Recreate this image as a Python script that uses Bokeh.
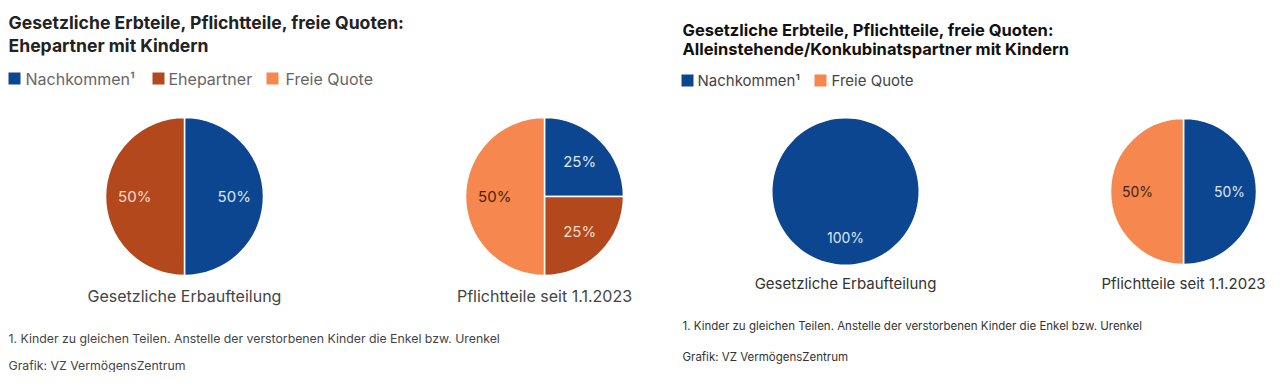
import numpy as np
from bokeh.plotting import figure
from bokeh.models import Range1d, ColumnDataSource
from bokeh.core.properties import value
from bokeh.embed import file_html
from bokeh.resources import INLINE

# ---------------- data ----------------
categories = ["Nachkommen", "Ehepartner", "Freie Quote"]
slice_colors = ["#0d4690", "#b4481d", "#f5874f"]
slice_text_colors = ["#dbe6f6", "#fadccb", "#4a1f0c"]

left_gesetzlich = [50, 50, 0]
left_pflicht = [25, 25, 50]
right_gesetzlich = [100, 0, 0]
right_pflicht = [50, 0, 50]

left_title = ["Gesetzliche Erbteile, Pflichtteile, freie Quoten:", "Ehepartner mit Kindern"]
right_title = ["Gesetzliche Erbteile, Pflichtteile, freie Quoten:",
               "Alleinstehende/Konkubinatspartner mit Kindern"]
left_legend = ["Nachkommen¹", "Ehepartner", "Freie Quote"]
left_legend_idx = [0, 1, 2]
right_legend = ["Nachkommen¹", "Freie Quote"]
right_legend_idx = [0, 2]
pie_captions = ["Gesetzliche Erbaufteilung", "Pflichtteile seit 1.1.2023"]
footnote = "1. Kinder zu gleichen Teilen. Anstelle der verstorbenen Kinder die Enkel bzw. Urenkel"
credit = "Grafik: VZ VermögensZentrum"

# ---------------- figure ----------------
W, H = 1270, 372
p = figure(width=W, height=H, x_range=Range1d(0, W), y_range=Range1d(0, H),
           output_backend="svg", toolbar_location=None, min_border=0,
           x_axis_location=None, y_axis_location=None)
p.grid.visible = False
p.outline_line_color = None
p.background_fill_color = "white"
p.border_fill_color = "white"

FONT = value("Inter")


def Y(y):
    # pixel row from the top -> data y
    return H - y


def txt(x, y, s, size, color="#333333", align="left", bold=False):
    p.text(x=[x], y=[Y(y)], text=[s], text_font=FONT, text_font_size=f"{size}px",
           text_color=color, text_align=align, text_baseline="middle",
           text_font_style="bold" if bold else "normal")


def pie(values, cx, cy, r, label_size):
    vals = np.array(values, dtype=float)
    total = vals.sum()
    shares = vals / total
    cum = np.concatenate([[0], np.cumsum(shares)])
    nz = [i for i in range(len(vals)) if vals[i] > 0]
    single = len(nz) == 1
    xs, ys, starts, ends, cols = [], [], [], [], []
    lx, ly, lt, lc = [], [], [], []
    for i in nz:
        a0 = np.pi / 2 - 2 * np.pi * cum[i]
        a1 = np.pi / 2 - 2 * np.pi * cum[i + 1]
        if single:
            a1 = a0 - 2 * np.pi * 0.99999
        xs.append(cx); ys.append(Y(cy)); starts.append(a0); ends.append(a1)
        cols.append(slice_colors[i])
        mid = (a0 + a1) / 2
        lx.append(cx + 0.63 * r * np.cos(mid))
        ly.append(Y(cy) + 0.63 * r * np.sin(mid))
        lt.append(f"{int(round(vals[i] / total * 100))}%")
        lc.append(slice_text_colors[i])
    src = ColumnDataSource(dict(x=xs, y=ys, s=starts, e=ends, c=cols))
    p.wedge(x="x", y="y", radius=r, start_angle="s", end_angle="e", direction="clock",
            source=src, fill_color="c", line_color="white",
            line_width=0 if single else 1.5, line_alpha=0 if single else 1)
    lsrc = ColumnDataSource(dict(x=lx, y=ly, t=lt, c=lc))
    p.text(x="x", y="y", text="t", source=lsrc, text_color="c", text_font=FONT,
           text_font_size=f"{label_size}px", text_align="center", text_baseline="middle")


# ---------------- left panel ----------------
txt(8, 22, left_title[0], 17.6, "#222222", bold=True)
txt(8, 45, left_title[1], 17.6, "#222222", bold=True)
lx_sq = [14, 158, 272]
lx_tx = [25, 168, 285]
for k, (lab, idx) in enumerate(zip(left_legend, left_legend_idx)):
    p.scatter(x=[lx_sq[k]], y=[Y(78)], marker="square", size=12,
              fill_color=slice_colors[idx], line_color=None)
    txt(lx_tx[k], 78, lab, 16, "#666666")
pie(left_gesetzlich, 184, 196, 79, 15)
pie(left_pflicht, 544, 196, 79, 15)
txt(184, 295, pie_captions[0], 16, "#444444", align="center")
txt(544, 295, pie_captions[1], 16, "#444444", align="center")
txt(8, 338, footnote, 12.3, "#444444")
txt(8, 365, credit, 12.3, "#444444")

# ---------------- right panel ----------------
txt(682, 29, right_title[0], 16.5, "#111111", bold=True)
txt(682, 48, right_title[1], 16.5, "#111111", bold=True)
rx_sq = [687, 820]
rx_tx = [697, 831]
for k, (lab, idx) in enumerate(zip(right_legend, right_legend_idx)):
    p.scatter(x=[rx_sq[k]], y=[Y(80)], marker="square", size=12,
              fill_color=slice_colors[idx], line_color=None)
    txt(rx_tx[k], 80, lab, 15, "#444444")
pie(right_gesetzlich, 845, 191, 73, 14)
pie(right_pflicht, 1183, 191, 73, 14)
txt(845, 283, pie_captions[0], 15, "#333333", align="center")
txt(1183, 283, pie_captions[1], 15, "#333333", align="center")
txt(682, 325, footnote, 11.5, "#333333")
txt(682, 356, credit, 11.5, "#333333")

open("out.html", "w").write(file_html(p, INLINE))
